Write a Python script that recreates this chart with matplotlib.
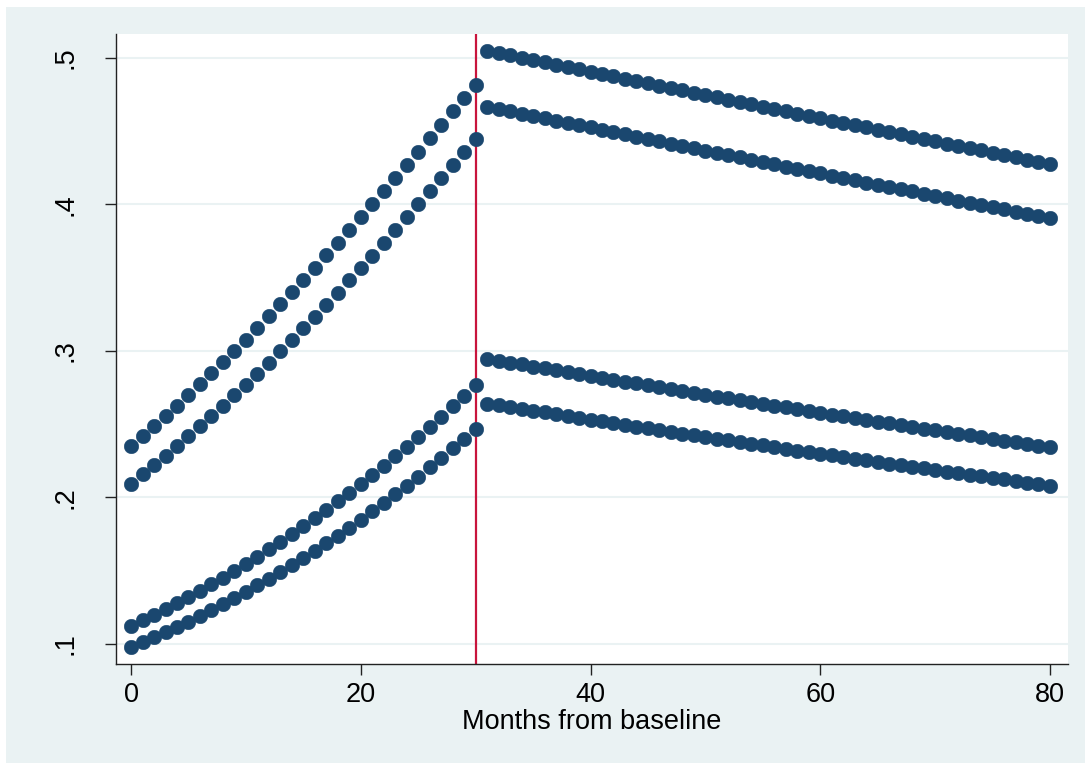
import matplotlib
matplotlib.use("Agg")
import matplotlib.pyplot as plt
from matplotlib.patches import Rectangle

# months 0..80, break (xline) at month 30
months = list(range(0, 81))
break_month = 30

# one value per month
upper_a = [0.2351, 0.2418, 0.2487, 0.2556, 0.2627, 0.2699, 0.2772, 0.2847, 0.2923, 0.3000,
           0.3078, 0.3157, 0.3237, 0.3318, 0.3401, 0.3484, 0.3568, 0.3653, 0.3739, 0.3826,
           0.3914, 0.4002, 0.4091, 0.4180, 0.4270, 0.4361, 0.4452, 0.4543, 0.4635, 0.4727,
           0.4819,
           0.5050, 0.5034, 0.5018, 0.5002, 0.4986, 0.4970, 0.4955, 0.4939, 0.4923, 0.4907,
           0.4891, 0.4875, 0.4859, 0.4843, 0.4827, 0.4811, 0.4795, 0.4780, 0.4764, 0.4748,
           0.4732, 0.4716, 0.4700, 0.4684, 0.4668, 0.4652, 0.4637, 0.4621, 0.4605, 0.4589,
           0.4573, 0.4557, 0.4542, 0.4526, 0.4510, 0.4494, 0.4479, 0.4463, 0.4447, 0.4432,
           0.4416, 0.4400, 0.4385, 0.4369, 0.4353, 0.4337, 0.4322, 0.4306, 0.4291, 0.4275]

upper_b = [0.2095, 0.2157, 0.2220, 0.2284, 0.2350, 0.2417, 0.2485, 0.2555, 0.2625, 0.2697,
           0.2771, 0.2845, 0.2921, 0.2998, 0.3076, 0.3155, 0.3235, 0.3317, 0.3399, 0.3482,
           0.3566, 0.3651, 0.3737, 0.3824, 0.3912, 0.4000, 0.4089, 0.4178, 0.4268, 0.4359,
           0.4450,
           0.4668, 0.4652, 0.4636, 0.4620, 0.4605, 0.4589, 0.4573, 0.4557, 0.4541, 0.4526,
           0.4510, 0.4494, 0.4478, 0.4463, 0.4447, 0.4431, 0.4415, 0.4400, 0.4384, 0.4368,
           0.4353, 0.4337, 0.4321, 0.4306, 0.4290, 0.4275, 0.4259, 0.4243, 0.4228, 0.4212,
           0.4197, 0.4181, 0.4166, 0.4150, 0.4135, 0.4119, 0.4104, 0.4089, 0.4073, 0.4058,
           0.4043, 0.4027, 0.4012, 0.3997, 0.3981, 0.3966, 0.3951, 0.3936, 0.3920, 0.3905]

lower_a = [0.1123, 0.1160, 0.1199, 0.1238, 0.1279, 0.1320, 0.1363, 0.1407, 0.1453, 0.1499,
           0.1547, 0.1596, 0.1646, 0.1697, 0.1750, 0.1803, 0.1859, 0.1915, 0.1973, 0.2032,
           0.2092, 0.2154, 0.2217, 0.2282, 0.2347, 0.2414, 0.2482, 0.2552, 0.2623, 0.2695,
           0.2768,
           0.2947, 0.2934, 0.2921, 0.2908, 0.2894, 0.2881, 0.2868, 0.2855, 0.2842, 0.2829,
           0.2816, 0.2804, 0.2791, 0.2778, 0.2765, 0.2752, 0.2740, 0.2727, 0.2715, 0.2702,
           0.2689, 0.2677, 0.2664, 0.2652, 0.2640, 0.2627, 0.2615, 0.2603, 0.2590, 0.2578,
           0.2566, 0.2554, 0.2542, 0.2530, 0.2518, 0.2506, 0.2494, 0.2482, 0.2470, 0.2458,
           0.2446, 0.2435, 0.2423, 0.2411, 0.2399, 0.2388, 0.2376, 0.2365, 0.2353, 0.2342]

lower_b = [0.0978, 0.1011, 0.1045, 0.1080, 0.1116, 0.1153, 0.1191, 0.1231, 0.1271, 0.1313,
           0.1355, 0.1399, 0.1444, 0.1490, 0.1538, 0.1586, 0.1636, 0.1687, 0.1740, 0.1793,
           0.1848, 0.1905, 0.1962, 0.2021, 0.2081, 0.2143, 0.2205, 0.2270, 0.2335, 0.2402,
           0.2470,
           0.2641, 0.2629, 0.2617, 0.2604, 0.2592, 0.2580, 0.2568, 0.2555, 0.2543, 0.2531,
           0.2519, 0.2507, 0.2495, 0.2483, 0.2471, 0.2460, 0.2448, 0.2436, 0.2424, 0.2413,
           0.2401, 0.2389, 0.2378, 0.2366, 0.2355, 0.2343, 0.2332, 0.2320, 0.2309, 0.2298,
           0.2287, 0.2276, 0.2264, 0.2253, 0.2242, 0.2231, 0.2220, 0.2209, 0.2198, 0.2187,
           0.2176, 0.2165, 0.2155, 0.2144, 0.2133, 0.2123, 0.2112, 0.2101, 0.2091, 0.2080]

yticks = [0.1, 0.2, 0.3, 0.4, 0.5]
ytick_labels = [".1", ".2", ".3", ".4", ".5"]
xticks = [0, 20, 40, 60, 80]
xlabel = "Months from baseline"

BG = "#EAF2F3"
NAVY = "#1A476F"
RED = "#C8143C"
AXC = "#222222"

plt.rcParams["font.family"] = ["Liberation Sans", "DejaVu Sans"]

fig = plt.figure(figsize=(10.85, 7.63), dpi=100)
fig.patch.set_facecolor("white")
fig.patches.append(Rectangle((6 / 1085, 0), 1 - 6 / 1085, 1 - 7 / 763,
                             transform=fig.transFigure, facecolor=BG,
                             edgecolor="none", zorder=-10))

ax = fig.add_axes([116 / 1085, 99 / 763, 952 / 1085, 630 / 763])
ax.set_facecolor("white")

for s in ["top", "right"]:
    ax.spines[s].set_visible(False)
for s in ["left", "bottom"]:
    ax.spines[s].set_color(AXC)
    ax.spines[s].set_linewidth(1.0)

ax.axvline(break_month, color=RED, lw=1.6, zorder=2)

for series in [upper_a, upper_b, lower_a, lower_b]:
    ax.plot(months, series, linestyle="None", marker="o", markersize=10.5,
            markerfacecolor=NAVY, markeredgecolor=NAVY, markeredgewidth=0.3, zorder=3)

ax.set_xlim(-1.31, 81.57)
ax.set_ylim(0.0863, 0.5164)

ax.set_yticks(yticks)
ax.set_yticklabels(ytick_labels, rotation=90, va="center")
ax.set_xticks(xticks)
ax.grid(axis="y", color=BG, lw=1.5, zorder=1)
ax.grid(axis="x", visible=False)
ax.set_axisbelow(True)

ax.tick_params(axis="both", direction="out", length=8, width=1.0, color=AXC,
               labelsize=19.5, labelcolor="black")
ax.tick_params(axis="y", pad=19)
ax.tick_params(axis="x", pad=5)

ax.set_xlabel(xlabel, fontsize=19.5, labelpad=1)

fig.savefig("out.png", dpi=100, facecolor=fig.get_facecolor())
